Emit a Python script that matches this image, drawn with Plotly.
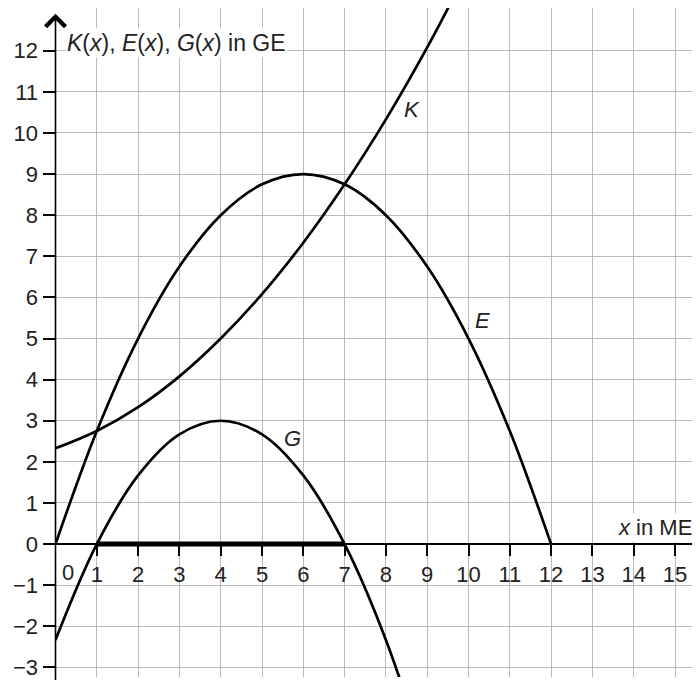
import plotly.graph_objects as go

# values (x in ME, y in GE)
x_e = [0, 1, 2, 3, 4, 5, 6, 7, 8, 9, 10, 11, 12]
e_vals = [0, 2.75, 5, 6.75, 8, 8.75, 9, 8.75, 8, 6.75, 5, 2.75, 0]

x_k = [0, 1, 2, 3, 4, 5, 6, 7, 8, 9, 10]
k_vals = [2.33, 2.75, 3.33, 4.08, 5, 6.08, 7.33, 8.75, 10.33, 12.08, 14]

x_g = [0, 1, 2, 3, 4, 5, 6, 7, 8, 9]
g_vals = [-2.33, 0, 1.67, 2.67, 3, 2.67, 1.67, 0, -2.33, -5.33]

profit_x = [1, 7]
profit_y = [0, 0]

x_ticks = list(range(1, 16))
y_ticks = list(range(-3, 13))
y_ticktext = [str(v).replace('-', '\u2212') for v in y_ticks]

# the page body adds an 8px margin, so the figure is 8px smaller
W, H = 692, 672
unit = 41.3
x0_px, y0_px = 47.5, 538.5
x_range = [0, (W - x0_px) / unit]
y_range = [-(H - y0_px) / unit, y0_px / unit]
x_dom0 = x0_px / W
axis_pos = -y_range[0] / (y_range[1] - y_range[0])

FONT = 'Liberation Sans, Arial, sans-serif'
FS = 22
txt_col = '#222'
grid_col = '#bababa'

fig = go.Figure()
line = dict(color='black', width=2.7, shape='spline', smoothing=1)
fig.add_trace(go.Scatter(x=x_e, y=e_vals, mode='lines', line=line, name='E'))
fig.add_trace(go.Scatter(x=x_k, y=k_vals, mode='lines', line=line, name='K'))
fig.add_trace(go.Scatter(x=x_g, y=g_vals, mode='lines', line=line, name='G'))
fig.add_trace(go.Scatter(x=profit_x, y=profit_y, mode='lines',
                         line=dict(color='black', width=5), name='Gewinnzone'))

fig.update_xaxes(range=x_range, domain=[x_dom0, 1], anchor='free', position=axis_pos,
                 tickvals=x_ticks, ticks='outside', ticklen=11, tickwidth=1.5, tickcolor='black',
                 showline=True, linecolor='black', linewidth=1.6, ticklabeloverflow='allow',
                 showgrid=True, gridcolor=grid_col, gridwidth=1, zeroline=False,
                 tickfont=dict(family=FONT, size=FS, color=txt_col))
fig.update_yaxes(range=y_range, domain=[0, 1],
                 tickvals=y_ticks, ticktext=y_ticktext, ticks='outside', ticklen=12,
                 tickwidth=1.5, tickcolor='black', showline=False, ticklabeloverflow='allow',
                 showgrid=True, gridcolor=grid_col, gridwidth=1, zeroline=False,
                 tickfont=dict(family=FONT, size=FS, color=txt_col))

# white bands hiding the grid under the x labels and above the grid
fig.add_shape(type='rect', xref='paper', yref='y', x0=x_dom0, x1=1, y0=-0.97, y1=0,
              fillcolor='white', line_width=0, layer='between')
fig.add_shape(type='rect', xref='paper', yref='y', x0=x_dom0, x1=1, y0=12.92, y1=y_range[1],
              fillcolor='white', line_width=0, layer='between')

# y axis with arrow
fig.add_annotation(x=0, y=12.9, ax=0, ay=y_range[0] - 0.2, xref='x', yref='y',
                   axref='x', ayref='y', text='', showarrow=True, arrowhead=4,
                   arrowsize=2.4, arrowwidth=1.6, arrowcolor='black', standoff=0)

fig.add_annotation(x=0.30, y=-0.69, text='0', showarrow=False,
                   font=dict(family=FONT, size=FS, color=txt_col))
fig.add_annotation(x=0.24, y=12.19, xanchor='left', showarrow=False, bgcolor='white',
                   text='<i>K</i>(<i>x</i>), <i>E</i>(<i>x</i>), <i>G</i>(<i>x</i>) in GE',
                   font=dict(family=FONT, size=23, color=txt_col))
fig.add_annotation(x=15.45, y=0.40, xanchor='right', showarrow=False, bgcolor='white',
                   text='<i>x</i> in ME', font=dict(family=FONT, size=FS, color=txt_col))

for name, lx, ly in [('K', 8.62, 10.57), ('E', 10.34, 5.44), ('G', 5.74, 2.56)]:
    fig.add_annotation(x=lx, y=ly, text='<i>' + name + '</i>', showarrow=False,
                       font=dict(family=FONT, size=FS, color=txt_col))

fig.update_layout(width=W, height=H, margin=dict(l=0, r=0, t=0, b=0),
                  plot_bgcolor='white', paper_bgcolor='white', showlegend=False)
fig.write_html("out.html")
